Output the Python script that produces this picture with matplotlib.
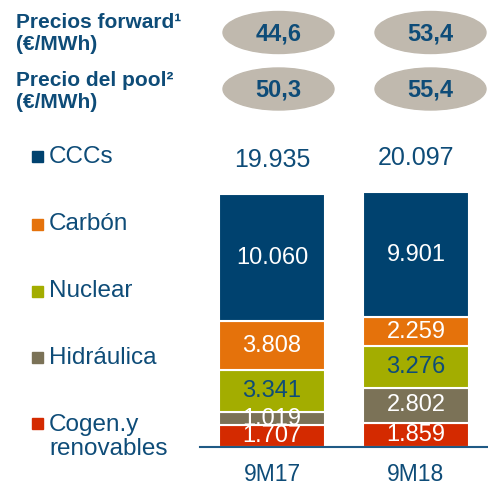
import matplotlib.pyplot as plt
from matplotlib.patches import Ellipse, Rectangle

plt.rcParams['font.family'] = ['Liberation Sans', 'DejaVu Sans']

# data
periods = ['9M17', '9M18']
technologies = ['Cogen.y\nrenovables', 'Hidráulica', 'Nuclear', 'Carbón', 'CCCs']
cogen = [1707, 1859]
hidraulica = [1019, 2802]
nuclear = [3341, 3276]
carbon = [3808, 2259]
cccs = [10060, 9901]
forward_prices = [44.6, 53.4]
pool_prices = [50.3, 55.4]

series = [cogen, hidraulica, nuclear, carbon, cccs]
colors = ['#D42A00', '#7B7257', '#A3AD00', '#E5720B', '#00426F']
text_colors = ['white', 'white', '#0E4C78', 'white', 'white']
dark = '#0E4C78'


def es_int(v):
    return f'{v:,}'.replace(',', '.')


def es_dec(v):
    return f'{v:.1f}'.replace('.', ',')


fig = plt.figure(figsize=(4.88, 4.86), dpi=100)

# bar axes
ax = fig.add_axes([200 / 488, 39.3 / 486, 288 / 488, 317 / 486])
x = range(len(periods))
bottom = [0, 0]
for vals, col, tcol in zip(series, colors, text_colors):
    ax.bar(x, vals, width=0.735, bottom=bottom, color=col,
           edgecolor='white', linewidth=1.5)
    for i, v in enumerate(vals):
        ax.text(i, bottom[i] + v / 2, es_int(v), ha='center', va='center',
                fontsize=17, color=tcol)
    bottom = [b + v for b, v in zip(bottom, vals)]

for i, t in enumerate(bottom):
    ax.text(i, t + 2700, es_int(t), ha='center', va='center',
            fontsize=18, color=dark)

ax.axhline(0, color='#1F5A85', linewidth=1.5, clip_on=False)
ax.set_xlim(-0.5, 1.5)
ax.set_ylim(0, 25000)
ax.axis('off')

# overlay in pixel coordinates
ov = fig.add_axes([0, 0, 1, 1], zorder=-1)
ov.set_xlim(0, 488)
ov.set_ylim(486, 0)
ov.axis('off')

for i, p in enumerate(periods):
    ov.text(272 + 144 * i, 480.5, p, ha='center', va='baseline',
            fontsize=16.5, color=dark)

title_lines = [('Precios forward¹', 28), ('(€/MWh)', 50.5),
               ('Precio del pool²', 86), ('(€/MWh)', 108)]
for txt, by in title_lines:
    ov.text(16, by, txt, fontsize=15, fontweight='bold', color=dark,
            va='baseline', ha='left')

ell_x = [278.5, 430.5]
for row_y, prices in [(32.5, forward_prices), (89, pool_prices)]:
    for ex, p in zip(ell_x, prices):
        ov.add_patch(Ellipse((ex, row_y), 111, 42, color='#C0B9AE'))
        ov.text(ex, row_y + 1, es_dec(p), ha='center', va='center',
                fontsize=17, fontweight='bold', color=dark)

# legend
leg_y = [437, 357.5, 291, 224, 156.5]
for name, col, ly in zip(technologies, colors, leg_y):
    sq_y = ly if '\n' not in name else 423
    ov.add_patch(Rectangle((32, sq_y - 5.5), 11, 11, color=col))
    ov.text(49, ly, name, fontsize=17.5, color=dark, va='center',
            ha='left', linespacing=1.15)

fig.savefig('out.png', dpi=100)
